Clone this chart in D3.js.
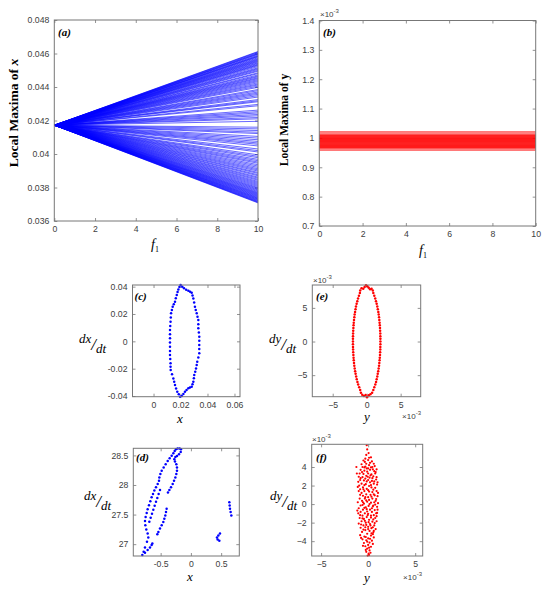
<!DOCTYPE html>
<html>
<head>
<meta charset="utf-8">
<script src="https://cdn.jsdelivr.net/npm/d3@7"></script>
<style>
body { margin: 0; background: #fff; }
svg text { font-family: "Liberation Sans", Arial, sans-serif; }
.tick text { fill: #404040; font-size: 8.7px; }
.tick line { stroke: #777; stroke-width: 0.8; }
.serif { font-family: "Liberation Serif", "Times New Roman", serif !important; }
</style>
</head>
<body>
<svg id="fig" width="550" height="590"></svg>
<script>
// ---- data ----
// (a) local maxima of x: every line starts at the same value at f1 = 0
const aStart = 0.04172;
const aEnds = [
  0.04612,0.04609,0.04605,0.04601,0.04598,0.04595,0.04590,0.04586,0.04583,0.04580,0.04575,0.04570,
  0.04566,0.04562,0.04558,0.04554,0.04550,0.04545,0.04541,0.04536,0.04532,0.04528,0.04522,0.04515,
  0.04510,0.04505,0.04499,0.04494,0.04485,0.04480,0.04472,0.04466,0.04461,0.04455,0.04450,0.04444,
  0.04438,0.04432,0.04425,0.04418,0.04412,0.04405,0.04398,0.04385,0.04378,0.04370,0.04363,0.04356,
  0.04348,0.04340,0.04325,0.04318,0.04312,0.04296,0.04288,0.04262,0.04253,0.04245,0.04236,0.04228,
  0.04218,0.04210,0.04195,0.04160,0.04150,0.04140,0.04130,0.04122,0.04105,0.04095,0.04085,0.04075,
  0.04066,0.04058,0.04048,0.04030,0.04020,0.04012,0.03995,0.03986,0.03978,0.03968,0.03960,0.03952,
  0.03945,0.03936,0.03928,0.03920,0.03912,0.03905,0.03898,0.03890,0.03884,0.03876,0.03870,0.03862,
  0.03856,0.03849,0.03843,0.03836,0.03830,0.03824,0.03818,0.03812,0.03806,0.03800,0.03795,0.03790,
  0.03785,0.03780,0.03775,0.03770,0.03766,0.03762,0.03758,0.03754,0.03750,0.03746,0.03742,0.03738,
  0.03735,0.03731,0.03728,0.03724,0.03721,0.03717,0.03714,0.03711,0.03708
];
const aXTicks = [0, 2, 4, 6, 8, 10];
const aYTicks = [0.036, 0.038, 0.04, 0.042, 0.044, 0.046, 0.048];

// (b) local maxima of y (x 10^-3)
const bLevels = [
  0.958,0.962,0.965,0.967,0.968,0.970,0.971,0.973,0.974,0.976,0.977,0.979,0.980,0.982,0.983,0.985,
  0.986,0.988,0.989,0.991,0.992,0.994,0.995,0.997,0.998,1.000,1.001,1.003,1.004,1.006,1.007,1.009,
  1.010,1.013,1.017,1.021
];
const bYTicks = [0.7, 0.8, 0.9, 1, 1.1, 1.2, 1.3, 1.4];

// (c) phase portrait x vs dx/dt
const cLoop = [
  [0.0201,0.0412],[0.0213,0.0400],[0.0226,0.0388],[0.0242,0.0378],[0.0258,0.0370],[0.0271,0.0363],
  [0.0283,0.0356],[0.0289,0.0335],[0.0295,0.0314],[0.0301,0.0284],[0.0307,0.0253],[0.0313,0.0229],
  [0.0320,0.0205],[0.0326,0.0180],[0.0332,0.0156],[0.0332,0.0125],[0.0332,0.0095],[0.0336,0.0065],
  [0.0339,0.0034],[0.0339,0.0004],[0.0339,-0.0027],[0.0339,-0.0057],[0.0339,-0.0088],[0.0332,-0.0118],
  [0.0324,-0.0149],[0.0320,-0.0173],[0.0315,-0.0198],[0.0309,-0.0222],[0.0302,-0.0246],[0.0299,-0.0270],
  [0.0295,-0.0295],[0.0289,-0.0314],[0.0283,-0.0332],[0.0270,-0.0338],[0.0258,-0.0344],[0.0245,-0.0356],
  [0.0233,-0.0369],[0.0221,-0.0385],[0.0209,-0.0400],[0.0197,-0.0405],[0.0187,-0.0387],[0.0176,-0.0369],
  [0.0167,-0.0345],[0.0159,-0.0320],[0.0153,-0.0296],[0.0147,-0.0271],[0.0137,-0.0240],[0.0127,-0.0210],
  [0.0126,-0.0186],[0.0126,-0.0161],[0.0124,-0.0130],[0.0122,-0.0100],[0.0122,-0.0070],[0.0122,-0.0039],
  [0.0122,-0.0009],[0.0122,0.0022],[0.0122,0.0052],[0.0122,0.0083],[0.0124,0.0113],[0.0126,0.0143],
  [0.0128,0.0174],[0.0130,0.0205],[0.0136,0.0229],[0.0142,0.0253],[0.0150,0.0272],[0.0159,0.0290],
  [0.0165,0.0315],[0.0172,0.0339],[0.0178,0.0360],[0.0184,0.0380],[0.0192,0.0398]
];
const cXTicks = [0, 0.02, 0.04, 0.06];
const cYTicks = [-0.04, -0.02, 0, 0.02, 0.04];

// (d) phase portrait, second case
const dPts = [
  [-0.803,26.817],[-0.781,26.872],[-0.759,26.945],[-0.726,27.040],[-0.704,27.112],[-0.715,27.179],
  [-0.737,27.246],[-0.753,27.319],[-0.759,27.391],[-0.748,27.458],[-0.731,27.525],[-0.715,27.592],
  [-0.693,27.659],[-0.671,27.726],[-0.649,27.793],[-0.626,27.849],[-0.604,27.905],[-0.577,27.961],
  [-0.549,28.016],[-0.527,28.072],[-0.522,28.128],[-0.505,28.184],[-0.483,28.240],[-0.450,28.296],
  [-0.417,28.351],[-0.384,28.407],[-0.351,28.452],[-0.318,28.496],[-0.290,28.536],[-0.268,28.575],
  [-0.246,28.605],[-0.219,28.615],[-0.186,28.615],[-0.164,28.602],[-0.169,28.558],[-0.197,28.519],
  [-0.230,28.491],[-0.257,28.474],[-0.274,28.435],[-0.263,28.396],[-0.241,28.351],[-0.230,28.296],
  [-0.230,28.240],[-0.241,28.184],[-0.257,28.128],[-0.279,28.072],[-0.301,28.016],[-0.329,27.961],
  [-0.356,27.916],[-0.379,27.871],
  [-0.511,27.916],[-0.533,27.849],[-0.555,27.782],[-0.577,27.715],[-0.599,27.648],[-0.621,27.581],
  [-0.643,27.514],[-0.665,27.447],[-0.687,27.380],
  [-0.401,27.598],[-0.412,27.542],[-0.423,27.486],[-0.439,27.430],[-0.456,27.375],[-0.483,27.319],
  [-0.511,27.263],[-0.538,27.207],[-0.555,27.168],
  [-0.759,26.856],[-0.715,26.900],[-0.676,26.945],[-0.649,26.984],[-0.637,27.012],
  [0.481,27.179],[0.454,27.146],[0.431,27.112],[0.442,27.079],[0.470,27.057],
  [0.635,27.710],[0.641,27.654],[0.646,27.598],[0.657,27.542],[0.668,27.486]
];
const dXTicks = [-0.5, 0, 0.5];
const dYTicks = [27, 27.5, 28, 28.5];

// (e) phase portrait y vs dy/dt (both x 10^-3)
const ePts = [
  [0.80,-7.6],[0.98,-7.2],[1.12,-6.8],[1.27,-6.4],[1.38,-6.0],[1.47,-5.6],[1.56,-5.2],[1.63,-4.8],
  [1.70,-4.4],[1.76,-4.0],[1.82,-3.6],[1.86,-3.2],[1.90,-2.8],[1.93,-2.4],[1.96,-2.0],[1.98,-1.6],
  [2.00,-1.2],[2.01,-0.8],[2.02,-0.4],[2.02,0],[2.02,0.4],[2.01,0.8],[2.00,1.2],[1.98,1.6],
  [1.96,2.0],[1.93,2.4],[1.90,2.8],[1.86,3.2],[1.82,3.6],[1.77,4.0],[1.71,4.4],[1.64,4.8],
  [1.56,5.2],[1.47,5.6],[1.37,6.0],[1.26,6.4],[1.12,6.8],[0.98,7.2],[0.90,7.6],
  [0.72,7.85],[0.50,7.75],[0.30,8.0],[0.10,8.2],[-0.10,8.35],[-0.30,8.1],[-0.50,7.85],[-0.75,7.9],[-0.95,7.6],
  [-1.00,7.2],[-1.14,6.8],[-1.27,6.4],[-1.38,6.0],[-1.48,5.6],[-1.57,5.2],[-1.64,4.8],[-1.71,4.4],
  [-1.77,4.0],[-1.82,3.6],[-1.86,3.2],[-1.90,2.8],[-1.93,2.4],[-1.96,2.0],[-1.98,1.6],[-2.00,1.2],
  [-2.01,0.8],[-2.02,0.4],[-2.02,0],[-2.02,-0.4],[-2.01,-0.8],[-2.00,-1.2],[-1.98,-1.6],[-1.96,-2.0],
  [-1.93,-2.4],[-1.90,-2.8],[-1.86,-3.2],[-1.82,-3.6],[-1.76,-4.0],[-1.70,-4.4],[-1.63,-4.8],[-1.55,-5.2],
  [-1.46,-5.6],[-1.36,-6.0],[-1.25,-6.4],[-1.10,-6.8],[-0.95,-7.2],[-0.85,-7.6],
  [-0.65,-7.9],[-0.40,-8.1],[-0.15,-7.95],[0.05,-8.3],[0.30,-8.0],[0.55,-7.85]
];
const eTicks = [-5, 0, 5];

// (f) phase portrait, second case (both x 10^-3)
const fPts = [
  [-0.15,6.35],[-0.1,5.9],[0.05,5.5],[-0.2,5.3],[0.1,5.0],[-0.3,4.9],[0.3,5.05],
  [-0.5,4.7],[0.0,4.75],[0.4,4.6],[0.2,4.45],[-0.7,4.3],[-0.2,4.35],[0.1,4.2],[0.6,4.35],[-1.25,4.0],
  [-0.6,4.0],[-0.3,4.05],[0.3,3.95],[0.7,4.1],[0.0,3.85],[-0.8,3.7],[-0.4,3.6],[0.2,3.7],[0.5,3.75],
  [-0.1,3.5],[0.8,3.45],[-0.9,3.3],[-0.5,3.25],[0.0,3.3],[0.35,3.2],[0.75,3.3],[-0.2,3.05],
  [-1.0,2.95],[-0.6,2.9],[0.15,2.85],[0.55,3.0],[0.9,2.9],[-0.3,2.75],[-0.85,2.6],[-0.45,2.55],
  [0.0,2.6],[0.4,2.5],[0.85,2.65],[-1.05,2.4],[0.2,2.35],[-0.7,2.2],[-0.25,2.15],[0.6,2.2],[0.95,2.1],
  [-0.95,2.0],[0.1,1.95],[-0.55,1.8],[0.35,1.8],[0.75,1.75],[-0.15,1.65],[-0.85,1.6],[0.55,1.55],
  [-1.0,1.4],[-0.4,1.4],[0.1,1.35],[0.45,1.3],[0.9,1.4],[-0.7,1.2],[-0.2,1.05],[0.25,1.0],[0.7,0.95],
  [-0.55,0.9],[1.0,0.85],[0.0,0.75],[-0.9,0.6],[-0.35,0.6],[0.45,0.6],[0.85,0.55],[0.1,0.45],[-0.65,0.35],
  [-1.1,0.2],[-0.1,0.25],[0.3,0.15],[0.65,0.2],[1.05,0.1],[-0.45,0.05],[-0.8,-0.15],[0.05,-0.2],
  [0.5,-0.25],[0.95,-0.3],[-0.25,-0.35],[-1.0,-0.45],[-0.55,-0.6],[0.2,-0.6],[0.7,-0.65],[-0.1,-0.8],
  [0.4,-0.85],[-0.8,-0.85],[-1.05,-1.0],[-0.35,-1.0],[0.0,-1.05],[0.85,-1.0],[0.6,-1.2],[-0.6,-1.25],
  [-0.15,-1.4],[0.3,-1.45],[-0.9,-1.5],[0.75,-1.5],[-0.45,-1.6],[0.1,-1.7],[-0.7,-1.85],[0.45,-1.9],
  [0.9,-1.85],[-0.25,-2.0],[-1.0,-2.1],[0.2,-2.15],[-0.5,-2.3],[0.65,-2.3],[0.0,-2.45],[-0.8,-2.55],
  [0.35,-2.6],[0.8,-2.7],[-0.3,-2.8],[0.15,-2.9],[-0.65,-3.0],[0.55,-3.05],[-0.1,-3.2],[-0.85,-3.35],
  [0.3,-3.4],[-0.4,-3.5],[0.6,-3.6],[0.0,-3.7],[-0.6,-3.8],[-0.2,-3.9],[0.4,-3.95],[0.15,-4.15],
  [-0.45,-4.2],[0.0,-4.4],[-0.3,-4.55],[0.3,-4.6],[-0.1,-4.8],[0.15,-5.0],[-0.2,-5.15],[0.05,-5.35],
  [-0.05,-5.55],
  [-0.35,4.55],[0.45,4.0],[-0.15,3.85],[0.65,3.55],[-0.65,3.45],[0.25,3.1],[-0.8,2.8],[-0.15,2.45],
  [0.65,2.45],[-0.4,2.05],[0.3,2.05],[-1.1,1.85],[0.0,1.5],[0.6,1.05],[-0.85,1.0],[-0.3,0.75],
  [0.35,0.8],[0.8,0.35],[-0.2,0.4],[0.15,0.0],[-0.6,-0.1],[0.75,-0.05],[0.4,-0.45],[-0.4,-0.4],
  [1.0,-0.6],[-0.15,-0.55],[0.3,-1.25],[-0.85,-1.2],[-0.05,-1.2],[0.55,-1.65],[-0.6,-1.55],[0.9,-1.3],
  [-0.35,-1.8],[0.05,-1.95],[0.7,-2.05],[-0.75,-2.2],[-0.3,-2.5],[0.5,-2.5],[-0.5,-2.75],[0.0,-2.7],
  [0.35,-3.15],[-0.25,-3.55],[0.5,-3.25],[-0.75,-3.65],[0.2,-3.75],[-0.1,-4.05],[0.5,-4.3],[-0.55,-4.5],
  [0.1,-4.7],[-0.25,-4.95],[0.25,-5.25],[0.1,-5.5],[-0.4,3.95],[0.9,3.75],[1.0,2.35],[-1.2,3.3],
  [1.05,1.2],[-1.15,-0.7],[0.95,-0.95],[-0.5,1.6],[0.45,2.8],[-0.05,2.95],[-0.55,0.2],[0.55,-0.15],
  [-0.2,-2.25],[0.25,-2.3],[0.6,-2.9]
];
const fXTicks = [-5, 0, 5];
const fYTicks = [-4, -2, 0, 2, 4];

// ---- drawing ----
const svg = d3.select("#fig");
const trim = n => d => String(+d.toFixed(n));

const makePanel = (box, xDom, yDom, xTicks, yTicks, xFmt, yFmt) => {
  const g = svg.append("g");
  const x = d3.scaleLinear().domain(xDom).range([box.x0, box.x1]);
  const y = d3.scaleLinear().domain(yDom).range([box.y1, box.y0]);

  const addAxis = (axis, tr, labels) => {
    const a = g.append("g").attr("transform", tr)
      .call(axis.tickSizeInner(-3).tickSizeOuter(0).tickPadding(labels ? 5 : 0));
    a.select(".domain").remove();
    if (!labels) a.selectAll("text").remove();
  };
  addAxis(d3.axisBottom(x).tickValues(xTicks).tickFormat(xFmt), `translate(0,${box.y1})`, true);
  addAxis(d3.axisLeft(y).tickValues(yTicks).tickFormat(yFmt), `translate(${box.x0},0)`, true);
  addAxis(d3.axisTop(x).tickValues(xTicks), `translate(0,${box.y0})`, false);
  addAxis(d3.axisRight(y).tickValues(yTicks), `translate(${box.x1},0)`, false);

  const data = g.append("g");
  g.append("rect")
    .attr("x", box.x0).attr("y", box.y0)
    .attr("width", box.x1 - box.x0).attr("height", box.y1 - box.y0)
    .attr("fill", "none").attr("stroke", "#777").attr("stroke-width", 1);
  return { g, data, x, y };
};

const panelTag = (p, tx, ty, letter) => {
  p.g.append("text").attr("class", "serif")
    .attr("x", tx).attr("y", ty)
    .style("font-size", "11px").style("font-weight", "bold").style("font-style", "italic")
    .text(`(${letter})`);
};

const times10 = (g, tx, ty, anchor) => {
  const t = g.append("text").attr("x", tx).attr("y", ty)
    .attr("text-anchor", anchor).attr("fill", "#404040").style("font-size", "8px");
  t.append("tspan").text("\u00d710");
  t.append("tspan").attr("dy", -4).style("font-size", "6px").text("-3");
};

// "dx/dt" written as a raised numerator, a slash and a lowered denominator
const fracLabel = (tx, ty, num) => {
  const t = svg.append("text").attr("class", "serif").attr("x", tx).attr("y", ty)
    .style("font-style", "italic").style("font-size", "13px");
  t.append("tspan").text(num);
  t.append("tspan").attr("dy", 7).style("font-size", "17px").text("/");
  t.append("tspan").attr("dy", 3).text("dt");
};

const axisName = (tx, ty, txt) => {
  svg.append("text").attr("class", "serif").attr("x", tx).attr("y", ty)
    .attr("text-anchor", "middle")
    .style("font-size", "13px").style("font-style", "italic").text(txt);
};

const fLabel = (tx, ty) => {
  const t = svg.append("text").attr("class", "serif").attr("x", tx).attr("y", ty)
    .attr("text-anchor", "middle").style("font-size", "14px");
  t.append("tspan").style("font-style", "italic").text("f");
  t.append("tspan").attr("dy", 3).style("font-size", "8px").text("1");
};

// (a)
const pa = makePanel({ x0: 54.3, x1: 258, y0: 20, y1: 221 }, [0, 10], [0.036, 0.048],
  aXTicks, aYTicks, d3.format("d"), trim(4));
pa.data.selectAll("line").data(aEnds).enter().append("line")
  .attr("x1", pa.x(0)).attr("y1", pa.y(aStart))
  .attr("x2", pa.x(10)).attr("y2", d => pa.y(d))
  .attr("stroke", "#0000ff").attr("stroke-width", 0.6);
panelTag(pa, 58, 36, "a");
fLabel(155, 249);
svg.append("text").attr("class", "serif")
  .attr("transform", "translate(17.5,113) rotate(-90)").attr("text-anchor", "middle")
  .style("font-size", "13.5px").style("font-weight", "bold")
  .call(t => { t.append("tspan").text("Local Maxima of "); t.append("tspan").style("font-style", "italic").text("x"); });

// (b)
const pb = makePanel({ x0: 319.3, x1: 535.7, y0: 20.5, y1: 226 }, [0, 10], [0.7, 1.4],
  aXTicks, bYTicks, d3.format("d"), trim(1));
pb.data.selectAll("line").data(bLevels).enter().append("line")
  .attr("x1", pb.x(0)).attr("x2", pb.x(10))
  .attr("y1", d => pb.y(d)).attr("y2", d => pb.y(d))
  .attr("stroke", "#ff0000").attr("stroke-width", 0.7);
panelTag(pb, 323, 36, "b");
times10(pb.g, 320, 17, "start");
fLabel(423, 255);
svg.append("text").attr("class", "serif")
  .attr("transform", "translate(288,120) rotate(-90)").attr("text-anchor", "middle")
  .style("font-size", "11.5px").style("font-weight", "bold").text("Local Maxima of y");

// (c)
const pc = makePanel({ x0: 132.5, x1: 240, y0: 285, y1: 396.7 }, [-0.0156, 0.0641], [-0.0405, 0.0412],
  cXTicks, cYTicks, trim(2), trim(2));
pc.data.selectAll("circle").data(cLoop).enter().append("circle")
  .attr("cx", d => pc.x(d[0])).attr("cy", d => pc.y(d[1])).attr("r", 1.25).attr("fill", "#0000ff");
panelTag(pc, 134.5, 300, "c");
fracLabel(79, 343, "dx");
axisName(180, 423, "x");

// (d)
const pd = makePanel({ x0: 133.3, x1: 239.3, y0: 448.3, y1: 556 }, [-0.952, 0.8], [26.8, 28.62],
  dXTicks, dYTicks, trim(1), trim(1));
pd.data.selectAll("circle").data(dPts).enter().append("circle")
  .attr("cx", d => pd.x(d[0])).attr("cy", d => pd.y(d[1])).attr("r", 1.25).attr("fill", "#0000ff");
panelTag(pd, 136, 461, "d");
fracLabel(84, 500, "dx");
axisName(190, 581, "x");

// (e)
const pe = makePanel({ x0: 312.3, x1: 420.7, y0: 285, y1: 396.7 }, [-8, 7.95], [-8.2, 8.4],
  eTicks, eTicks, d3.format("d"), d3.format("d"));
pe.data.selectAll("circle").data(ePts).enter().append("circle")
  .attr("cx", d => pe.x(d[0])).attr("cy", d => pe.y(d[1])).attr("r", 1.25).attr("fill", "#ff0000");
panelTag(pe, 316, 300, "e");
times10(pe.g, 313, 283, "start");
times10(pe.g, 421, 419, "end");
fracLabel(269, 343, "dy");
axisName(367, 421, "y");

// (f)
const pf = makePanel({ x0: 311.7, x1: 422.7, y0: 444.3, y1: 556 }, [-6, 5.8], [-5.6, 6.45],
  fXTicks, fYTicks, d3.format("d"), d3.format("d"));
pf.data.selectAll("circle").data(fPts).enter().append("circle")
  .attr("cx", d => pf.x(d[0])).attr("cy", d => pf.y(d[1])).attr("r", 1.1).attr("fill", "#ff0000");
panelTag(pf, 316, 461, "f");
times10(pf.g, 312, 442, "start");
times10(pf.g, 422, 580, "end");
fracLabel(270, 500, "dy");
axisName(367, 581.5, "y");
</script>
</body>
</html>
